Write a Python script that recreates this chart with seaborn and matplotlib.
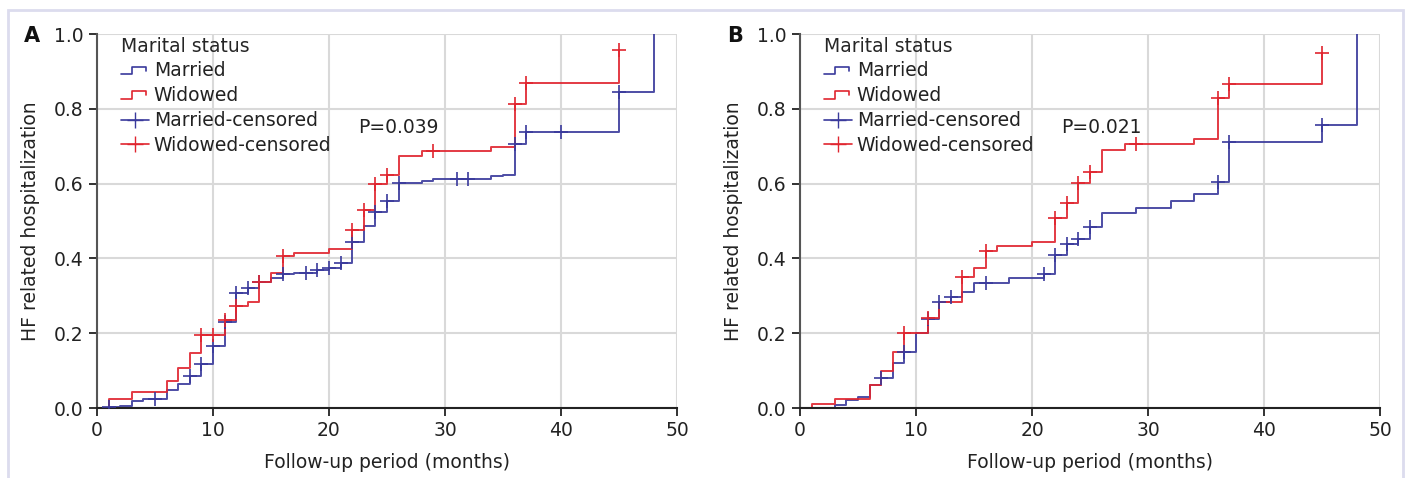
import matplotlib
matplotlib.use("Agg")
import matplotlib.pyplot as plt
import seaborn as sns
from matplotlib.lines import Line2D
from matplotlib.legend_handler import HandlerBase
from matplotlib.patches import Rectangle

# ---- Panel A: step curves (time in months, cumulative HF hospitalization) ----
a_married_t = [0.5, 1, 2, 3, 4, 6, 7, 8, 9, 10, 11, 12, 13, 14, 15, 16, 17, 19, 20, 21,
               22, 23, 24, 25, 26, 28, 29, 34, 35, 36, 37, 45, 48]
a_married_v = [0, 0.003, 0.006, 0.019, 0.023, 0.048, 0.064, 0.085, 0.118, 0.166, 0.23, 0.307,
               0.32, 0.336, 0.348, 0.357, 0.362, 0.369, 0.375, 0.389, 0.443, 0.486, 0.523,
               0.553, 0.601, 0.607, 0.612, 0.619, 0.623, 0.706, 0.737, 0.846, 1.0]
a_widowed_t = [0.5, 1, 3, 6, 7, 8, 9, 11, 12, 13, 14, 15, 16, 17, 20, 22, 23, 24, 25, 26,
               28, 34, 36, 37, 45]
a_widowed_v = [0, 0.025, 0.042, 0.073, 0.106, 0.148, 0.195, 0.235, 0.273, 0.284, 0.338, 0.36,
               0.406, 0.415, 0.425, 0.476, 0.529, 0.6, 0.623, 0.674, 0.687, 0.699, 0.813,
               0.868, 0.957]
a_married_cens_t = [1, 5, 8, 9, 10, 11, 12, 13, 14, 16, 18, 19, 20, 21, 22, 24, 25, 26, 31,
                    32, 36, 37, 40, 45]
a_married_cens_v = [0.003, 0.023, 0.085, 0.118, 0.166, 0.23, 0.307, 0.32, 0.336, 0.357, 0.362,
                    0.369, 0.375, 0.389, 0.443, 0.523, 0.553, 0.601, 0.612, 0.612, 0.706,
                    0.737, 0.737, 0.846]
a_widowed_cens_t = [9, 10, 11, 12, 14, 16, 22, 23, 24, 25, 29, 36, 37, 45]
a_widowed_cens_v = [0.195, 0.195, 0.235, 0.273, 0.338, 0.406, 0.476, 0.529, 0.6, 0.623,
                    0.687, 0.813, 0.868, 0.957]

# ---- Panel B ----
b_married_t = [0, 3, 4, 5, 6, 7, 8, 9, 10, 11, 12, 13, 14, 15, 18, 21, 22, 23, 24, 25, 26,
               29, 32, 34, 36, 37, 45, 48]
b_married_v = [0, 0.008, 0.021, 0.03, 0.061, 0.079, 0.121, 0.15, 0.201, 0.237, 0.284, 0.298,
               0.311, 0.333, 0.347, 0.358, 0.409, 0.439, 0.452, 0.483, 0.521, 0.534, 0.553,
               0.571, 0.605, 0.71, 0.757, 1.0]
b_widowed_t = [0, 1, 3, 6, 7, 8, 9, 11, 12, 14, 15, 16, 17, 20, 22, 23, 24, 25, 26, 28, 34,
               36, 37, 45]
b_widowed_v = [0, 0.011, 0.023, 0.061, 0.1, 0.149, 0.2, 0.24, 0.283, 0.351, 0.373, 0.421,
               0.433, 0.445, 0.507, 0.547, 0.602, 0.632, 0.69, 0.705, 0.719, 0.83, 0.865, 0.948]
b_married_cens_t = [7, 9, 11, 12, 13, 16, 21, 22, 23, 24, 25, 36, 37, 45]
b_married_cens_v = [0.079, 0.15, 0.237, 0.284, 0.298, 0.333, 0.358, 0.409, 0.439, 0.452,
                    0.483, 0.605, 0.71, 0.757]
b_widowed_cens_t = [9, 11, 14, 16, 22, 23, 24, 25, 29, 36, 37, 45]
b_widowed_cens_v = [0.2, 0.24, 0.351, 0.421, 0.507, 0.547, 0.602, 0.632, 0.705, 0.83, 0.865,
                    0.948]

p_values = ["P=0.039", "P=0.021"]
panel_labels = ["A", "B"]
legend_labels = ["Married", "Widowed", "Married-censored", "Widowed-censored"]

BLUE = "#3a3a9c"
RED = "#e0252f"
FS = 13.5


class StepHandler(HandlerBase):
    """Draws the small step glyph used for the curve entries."""
    def create_artists(self, legend, orig_handle, xdescent, ydescent, width, height,
                       fontsize, trans):
        x0, y0 = -xdescent, -ydescent
        xs = [x0, x0 + 0.4 * width, x0 + 0.4 * width, x0 + 0.9 * width, x0 + 0.9 * width]
        ys = [y0 + 0.15 * height, y0 + 0.15 * height, y0 + 0.75 * height,
              y0 + 0.75 * height, y0 + 0.45 * height]
        return [Line2D(xs, ys, color=orig_handle.get_color(), lw=1.2, transform=trans)]


def draw_panel(ax, m_t, m_v, w_t, w_v, mc_t, mc_v, wc_t, wc_v, pval):
    sns.lineplot(x=m_t, y=m_v, drawstyle="steps-post", color=BLUE, lw=1.4, alpha=0.9,
                 estimator=None, sort=False, ax=ax)
    sns.lineplot(x=w_t, y=w_v, drawstyle="steps-post", color=RED, lw=1.4, alpha=0.9,
                 estimator=None, sort=False, ax=ax)
    sns.scatterplot(x=mc_t, y=mc_v, marker="+", s=110, color=BLUE, linewidth=1.2, ax=ax,
                    zorder=3)
    sns.scatterplot(x=wc_t, y=wc_v, marker="+", s=110, color=RED, linewidth=1.2, ax=ax,
                    zorder=3)

    ax.set_xlim(0, 50)
    ax.set_ylim(0, 1)
    ax.set_xticks(range(0, 51, 10))
    ax.set_yticks([0, 0.2, 0.4, 0.6, 0.8, 1.0])
    ax.set_yticklabels([f"{v:.1f}" for v in ax.get_yticks()])
    ax.grid(True, color="#d9d9d9", lw=1.5)
    ax.set_axisbelow(True)
    for side in ["top", "right"]:
        ax.spines[side].set_visible(False)
    ax.spines["left"].set_color("#555555")
    ax.spines["bottom"].set_color("#222222")
    ax.spines["left"].set_linewidth(1.5)
    ax.spines["bottom"].set_linewidth(1.5)
    ax.tick_params(axis="both", direction="out", length=6, width=1.3, labelsize=FS,
                   colors="#222222", left=True, bottom=True)
    ax.set_xlabel("Follow-up period (months)", fontsize=FS, color="#222222", labelpad=9)
    ax.set_ylabel("HF related hospitalization", fontsize=FS, color="#222222", labelpad=10)

    ax.text(22.5, 0.75, pval, fontsize=FS, va="center", color="#222222")

    handles = [Line2D([], [], color=BLUE), Line2D([], [], color=RED),
               Line2D([], [], color=BLUE, marker="+", markersize=11, lw=1.2),
               Line2D([], [], color=RED, marker="+", markersize=11, lw=1.2)]
    leg = ax.legend(handles, legend_labels, title="Marital status", loc="upper left",
                    bbox_to_anchor=(0.025, 1.018), frameon=False, fontsize=FS,
                    title_fontsize=FS, handlelength=1.5, handletextpad=0.25,
                    labelspacing=0.31, borderpad=0.0, alignment="left",
                    handler_map={handles[0]: StepHandler(), handles[1]: StepHandler()})
    for t in leg.get_texts():
        t.set_color("#222222")


sns.set_style("white")
plt.rcParams["font.family"] = ["DejaVu Sans"]

fig = plt.figure(figsize=(14.1, 4.78), dpi=100)
ax_a = fig.add_axes([97 / 1410, 70 / 478, 580 / 1410, 374 / 478])
ax_b = fig.add_axes([800 / 1410, 70 / 478, 580 / 1410, 374 / 478])

draw_panel(ax_a, a_married_t, a_married_v, a_widowed_t, a_widowed_v,
           a_married_cens_t, a_married_cens_v, a_widowed_cens_t, a_widowed_cens_v, p_values[0])
draw_panel(ax_b, b_married_t, b_married_v, b_widowed_t, b_widowed_v,
           b_married_cens_t, b_married_cens_v, b_widowed_cens_t, b_widowed_cens_v, p_values[1])

for ax, lab, xpix in [(ax_a, panel_labels[0], 24), (ax_b, panel_labels[1], 727)]:
    fig.text(xpix / 1410, 1 - 36 / 478, lab, fontsize=15, fontweight="bold", va="center",
             color="#111111")

# light frame around the whole figure
fig.patches.append(Rectangle((8 / 1410, -0.05), 1395 / 1410, 468 / 478 + 0.05,
                             transform=fig.transFigure, fill=False, edgecolor="#dcdcee",
                             lw=2, clip_on=False))

fig.savefig("out.png", dpi=100)
